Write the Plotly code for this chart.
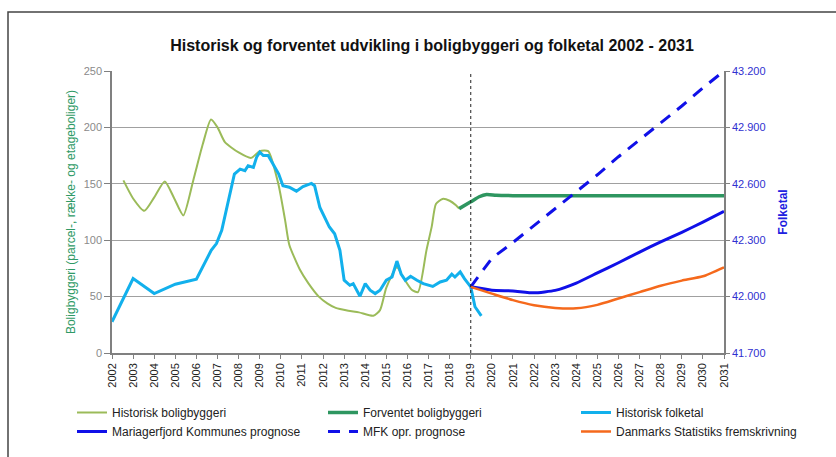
import plotly.graph_objects as go

# ---------------- data ----------------
years = list(range(2002, 2032))
year_labels = [str(y) for y in years]

hist_bolig_x = [2002.54, 2003.0, 2003.53, 2004.0, 2004.5, 2004.95, 2005.38, 2005.85, 2006.3, 2006.69,
                2007.0, 2007.35, 2007.98, 2008.6, 2009.0, 2009.4, 2009.88, 2010.2, 2010.4, 2010.9,
                2011.3, 2011.8, 2012.2, 2012.6, 2013.2, 2013.7, 2014.38, 2014.7, 2015.0, 2015.5,
                2015.8, 2016.2, 2016.5, 2016.9, 2017.15, 2017.35, 2017.66, 2018.0, 2018.3, 2018.45]
hist_bolig_y = [153, 137, 126, 138, 152, 137, 122, 153, 185, 207,
                200, 187, 178, 173, 179, 179, 150, 118, 96, 74,
                62, 50, 44, 40, 37.5, 36, 33, 38, 58, 76,
                67, 56, 54, 91, 112, 132, 136.6, 135, 131, 128]

forv_bolig_x = [2018.45, 2019.0, 2019.4, 2019.75, 2020.2, 2021, 2023, 2025, 2027, 2029, 2031]
forv_bolig_y = [128, 134, 138.5, 140.5, 139.8, 139.5, 139.5, 139.5, 139.5, 139.5, 139.5]

hist_folk_x = [2002.0, 2003.0, 2004.0, 2005.0, 2006.0, 2006.7, 2006.95, 2007.2, 2007.8, 2008.07,
               2008.3, 2008.45, 2008.7, 2008.85, 2009.0, 2009.17, 2009.4, 2009.9, 2010.1, 2010.4,
               2010.74, 2011.05, 2011.45, 2011.6, 2011.85, 2012.3, 2012.55, 2012.8, 2013.0, 2013.27,
               2013.43, 2013.75, 2014.0, 2014.23, 2014.47, 2014.7, 2015.0, 2015.27, 2015.5, 2015.7,
               2015.9, 2016.15, 2016.45, 2016.75, 2017.2, 2017.55, 2017.85, 2018.1, 2018.25, 2018.5,
               2018.7, 2019.0, 2019.2, 2019.5]
hist_folk_y = [41866, 42096, 42016, 42066, 42092, 42246, 42282, 42352, 42652, 42678,
               42670, 42696, 42687, 42741, 42768, 42750, 42750, 42652, 42590, 42582,
               42561, 42585, 42602, 42590, 42474, 42370, 42334, 42246, 42087, 42060,
               42069, 42002, 42069, 42034, 42016, 42034, 42087, 42104, 42189, 42120,
               42087, 42108, 42087, 42069, 42054, 42078, 42087, 42119, 42104, 42131,
               42096, 42052, 41946, 41898]

prog_years = list(range(2019, 2032))
mariager_prog = [42052, 42034, 42030, 42020, 42033, 42072, 42126, 42180, 42237, 42291, 42342, 42396, 42453]
mfk_opr_prog = [42052, 42204, 42288, 42378, 42468, 42558, 42648, 42744, 42834, 42924, 43014, 43110, 43200]
dst_frem = [42052, 42016, 41981, 41954, 41940, 41938, 41956, 41990, 42024, 42058, 42085, 42108, 42156]

left_ticks = [0, 50, 100, 150, 200, 250]
right_ticks = [41700, 42000, 42300, 42600, 42900, 43200]

FONT = "Liberation Sans, Arial, sans-serif"

fig = go.Figure()
fig.add_trace(go.Scatter(x=hist_bolig_x, y=hist_bolig_y, name="Historisk boligbyggeri", mode="lines",
                         legend="legend",
                         line=dict(color="#9BBB59", width=2, shape="spline", smoothing=0.6)))
fig.add_trace(go.Scatter(x=forv_bolig_x, y=forv_bolig_y, name="Forventet boligbyggeri", mode="lines",
                         legend="legend2",
                         line=dict(color="#2E9660", width=3.5, shape="spline", smoothing=0.5)))
fig.add_trace(go.Scatter(x=hist_folk_x, y=hist_folk_y, name="Historisk folketal", mode="lines",
                         legend="legend3",
                         line=dict(color="#12B0EC", width=3), yaxis="y2"))
fig.add_trace(go.Scatter(x=prog_years, y=mariager_prog, name="Mariagerfjord Kommunes prognose", mode="lines",
                         legend="legend",
                         line=dict(color="#1010E8", width=3, shape="spline", smoothing=0.5), yaxis="y2"))
fig.add_trace(go.Scatter(x=prog_years, y=mfk_opr_prog, name="MFK opr. prognose", mode="lines",
                         legend="legend2",
                         line=dict(color="#1010E8", width=3, dash="12px,9px"), yaxis="y2"))
fig.add_trace(go.Scatter(x=prog_years, y=dst_frem, name="Danmarks Statistiks fremskrivning", mode="lines",
                         legend="legend3",
                         line=dict(color="#F5691C", width=2.5, shape="spline", smoothing=0.5), yaxis="y2"))

W, H = 836, 457
L, R, T, B = 112, 112, 71, 104
pw, ph = W - L - R, H - T - B

def px_x(px):
    return (px - L) / pw

def px_y(py):
    return (H - B - py) / ph

def legend_at(px):
    return dict(orientation="v", x=px_x(px), xanchor="left", y=px_y(398), yanchor="top",
                traceorder="normal", font=dict(family=FONT, size=12, color="#222222"),
                itemwidth=30, bgcolor="rgba(0,0,0,0)", tracegroupgap=0)

fig.update_layout(
    width=W, height=H,
    margin=dict(l=L, r=R, t=T, b=B, pad=0, autoexpand=False),
    paper_bgcolor="white", plot_bgcolor="white",
    font=dict(family=FONT, size=11, color="#333333"),
    separators=",.",
    title=dict(text="<b>Historisk og forventet udvikling i boligbyggeri og folketal 2002 - 2031</b>",
               x=432 / W, xanchor="center", y=1 - 45 / H, yanchor="middle", yref="container",
               font=dict(family=FONT, size=16, color="#111111")),
    xaxis=dict(range=[2002, 2031], tickmode="array", tickvals=years, ticktext=year_labels,
               tickangle=-90, showgrid=False, showline=True, linecolor="#808080", linewidth=1.5,
               ticks="outside", ticklen=4, tickcolor="#808080", zeroline=False, automargin=False,
               tickfont=dict(size=11, color="#222222")),
    yaxis=dict(range=[0, 250], tickvals=left_ticks, showgrid=True, gridcolor="#A0A0A0", gridwidth=1,
               showline=True, linecolor="#808080", linewidth=1.5, ticks="outside", ticklen=6,
               tickcolor="#808080", zeroline=False, automargin=False,
               tickfont=dict(size=11, color="#8A8A8A"),
               title=dict(text="Boligbyggeri (parcel-, række- og etageboliger)", standoff=5,
                          font=dict(size=12, color="#2F9A66"))),
    yaxis2=dict(range=[41700, 43200], tickvals=right_ticks, tickformat=",d", overlaying="y", side="right",
                showgrid=False, showline=True, linecolor="#808080", linewidth=1.5, ticks="outside",
                ticklen=4, tickcolor="#808080", zeroline=False, automargin=False,
                tickfont=dict(size=11, color="#3030D0"),
                title=dict(text="<b>Folketal</b>", standoff=14, font=dict(size=12, color="#2020E0"))),
    legend=legend_at(72),
    legend2=legend_at(323),
    legend3=legend_at(576),
    shapes=[
        dict(type="line", xref="x", yref="paper", x0=2019, x1=2019, y0=0, y1=1,
             line=dict(color="#222222", width=1, dash="dot")),
        dict(type="rect", xref="paper", yref="paper", x0=px_x(8), x1=px_x(845), y0=px_y(465), y1=px_y(12),
             line=dict(color="#444444", width=1.5)),
    ],
)

fig.write_html("out.html", config={"displayModeBar": False},
               post_script="document.body.style.margin='0';")
